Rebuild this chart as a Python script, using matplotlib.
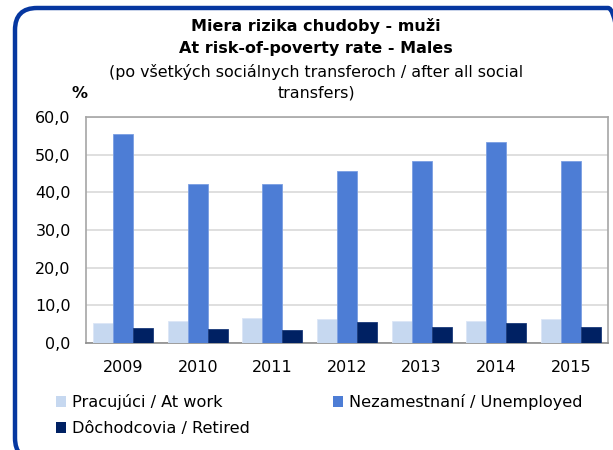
import numpy as np
import matplotlib
matplotlib.use("Agg")
import matplotlib.pyplot as plt
from matplotlib.patches import FancyBboxPatch, Patch
from matplotlib.ticker import FuncFormatter

years = ["2009", "2010", "2011", "2012", "2013", "2014", "2015"]
at_work = [5.3, 5.8, 6.6, 6.3, 5.8, 5.9, 6.3]
unemployed = [55.4, 42.1, 42.1, 45.7, 48.3, 53.4, 48.3]
retired = [4.1, 3.7, 3.4, 5.7, 4.2, 5.2, 4.2]

labels = ["Pracujúci / At work", "Nezamestnaní / Unemployed", "Dôchodcovia / Retired"]
colors = ["#c6d8f0", "#4d7dd5", "#002163"]

W, H = 613, 450
fig = plt.figure(figsize=(W / 100, H / 100), dpi=100)
plt.rcParams['font.family'] = ['DejaVu Sans']

# rounded blue frame (pixel coordinates, y up), runs off the right and bottom edges
bg = fig.add_axes([0, 0, 1, 1])
bg.set_xlim(0, W)
bg.set_ylim(0, H)
bg.set_axis_off()
frame = FancyBboxPatch((15, -10), 615, H - 8 + 10, boxstyle="round,pad=0,rounding_size=22",
                       fill=False, edgecolor="#0637a0", linewidth=3.2)
bg.add_patch(frame)

# plot area
ax = fig.add_axes([86 / W, 1 - 343 / H, (608 - 86) / W, (343 - 117) / H])
x = np.arange(len(years))
bw = 0.268
ax.bar(x - bw, at_work, bw, color=colors[0], edgecolor="#dbe6f6", linewidth=0.6, zorder=3)
ax.bar(x, unemployed, bw, color=colors[1], edgecolor="#7b9fe2", linewidth=0.6, zorder=3)
ax.bar(x + bw, retired, bw, color=colors[2], edgecolor="#1a3a7a", linewidth=0.6, zorder=3)

ax.set_xlim(-0.5, len(years) - 0.5)
ax.set_ylim(0, 60)
ax.set_yticks(np.arange(0, 61, 10))
ax.yaxis.set_major_formatter(FuncFormatter(lambda v, p: f"{v:.1f}".replace(".", ",")))
ax.set_xticks(x)
ax.set_xticklabels(years)
ax.tick_params(axis="both", length=0, labelsize=11.5, labelcolor="#000000")
ax.tick_params(axis="y", pad=11)
ax.tick_params(axis="x", pad=12)
ax.yaxis.grid(True, color="#d9d9d9", linewidth=1.2, zorder=0)
ax.set_axisbelow(True)
for s in ["top", "left", "right"]:
    ax.spines[s].set_color("#a6a6a6")
    ax.spines[s].set_linewidth(1.2)
ax.spines["bottom"].set_color("#8c8c8c")
ax.spines["bottom"].set_linewidth(1.2)

# titles
cx = 316 / W
fig.text(cx, 1 - 26 / H, "Miera rizika chudoby - muži", ha="center", va="center",
         fontsize=11.5, fontweight="bold")
fig.text(cx, 1 - 49 / H, "At risk-of-poverty rate - Males", ha="center", va="center",
         fontsize=11.5, fontweight="bold")
fig.text(cx, 1 - 72 / H, "(po všetkých sociálnych transferoch / after all social", ha="center",
         va="center", fontsize=11.4)
fig.text(cx, 1 - 93 / H, "transfers)", ha="center", va="center", fontsize=11.4)
fig.text(80 / W, 1 - 93 / H, "%", ha="center", va="center", fontsize=11.5, fontweight="bold")

# legend
handles = [Patch(facecolor=colors[0]), Patch(facecolor=colors[2]), Patch(facecolor=colors[1])]
fig.legend(handles, [labels[0], labels[2], labels[1]], ncol=2, loc="upper left",
           bbox_to_anchor=(56 / W, 1 - 394 / H), frameon=False, fontsize=11.6,
           handlelength=0.65, handleheight=0.65, handletextpad=0.35,
           columnspacing=5.15, labelspacing=0.7, borderpad=0, borderaxespad=0)

fig.savefig("out.png", dpi=100)
